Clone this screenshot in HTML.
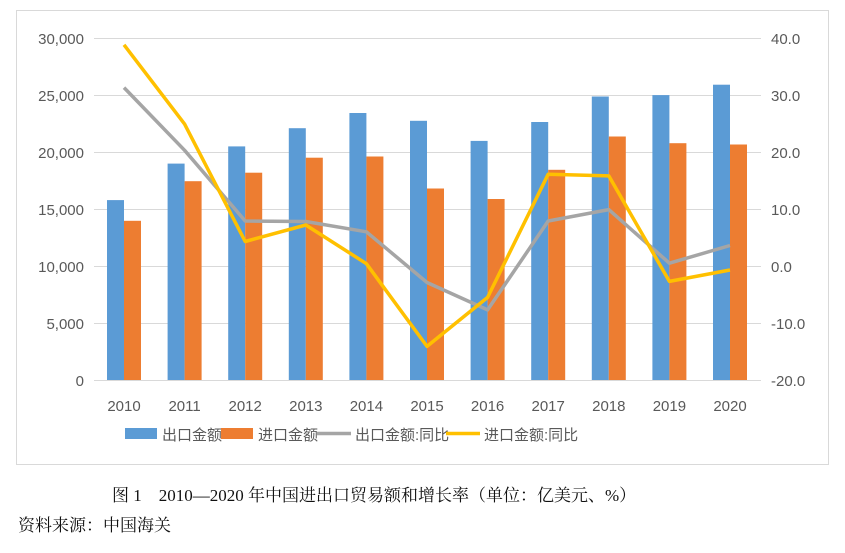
<!DOCTYPE html>
<html><head><meta charset="utf-8"><style>
body{margin:0;background:#fff;width:845px;height:548px;overflow:hidden}
svg text{font-family:"Liberation Sans","Noto Sans CJK SC",sans-serif}
</style></head><body>
<svg width="845" height="548" xmlns="http://www.w3.org/2000/svg">
<rect x="16.5" y="10.5" width="812" height="454" fill="#fff" stroke="#d9d9d9"/>
<g stroke="#d9d9d9" stroke-width="1">
<line x1="94" x2="761" y1="38.5" y2="38.5"/><line x1="94" x2="761" y1="95.5" y2="95.5"/>
<line x1="94" x2="761" y1="152.5" y2="152.5"/><line x1="94" x2="761" y1="209.5" y2="209.5"/>
<line x1="94" x2="761" y1="266.5" y2="266.5"/><line x1="94" x2="761" y1="323.5" y2="323.5"/>
<line x1="94" x2="761" y1="380.5" y2="380.5"/>
</g>
<g font-size="15" fill="#595959" text-anchor="end">
<text x="84" y="44">30,000</text><text x="84" y="101">25,000</text><text x="84" y="158">20,000</text>
<text x="84" y="215">15,000</text><text x="84" y="272">10,000</text><text x="84" y="329">5,000</text><text x="84" y="386">0</text>
</g>
<g font-size="15" fill="#595959" text-anchor="start">
<text x="771" y="44">40.0</text><text x="771" y="101">30.0</text><text x="771" y="158">20.0</text>
<text x="771" y="215">10.0</text><text x="771" y="272">0.0</text><text x="771" y="329">-10.0</text><text x="771" y="386">-20.0</text>
</g>
<g fill="#5b9bd5">
<rect x="107" y="200.1" width="17" height="179.9"/><rect x="167.6" y="163.6" width="17" height="216.4"/>
<rect x="228.2" y="146.4" width="17" height="233.6"/><rect x="288.8" y="128.2" width="17" height="251.8"/>
<rect x="349.4" y="113" width="17" height="267"/><rect x="410" y="120.8" width="17" height="259.2"/>
<rect x="470.6" y="140.9" width="17" height="239.1"/><rect x="531.2" y="122" width="17" height="258"/>
<rect x="591.8" y="96.5" width="17" height="283.5"/><rect x="652.4" y="95.1" width="17" height="284.9"/>
<rect x="713" y="84.7" width="17" height="295.3"/>
</g>
<g fill="#ed7d31">
<rect x="124" y="220.8" width="17" height="159.2"/><rect x="184.6" y="181.2" width="17" height="198.8"/>
<rect x="245.2" y="172.7" width="17" height="207.3"/><rect x="305.8" y="157.7" width="17" height="222.3"/>
<rect x="366.4" y="156.5" width="17" height="223.5"/><rect x="427" y="188.5" width="17" height="191.5"/>
<rect x="487.6" y="199" width="17" height="181"/><rect x="548.2" y="169.8" width="17" height="210.2"/>
<rect x="608.8" y="136.5" width="17" height="243.5"/><rect x="669.4" y="143.2" width="17" height="236.8"/>
<rect x="730" y="144.5" width="17" height="235.5"/>
</g>
<polyline fill="none" stroke="#a5a5a5" stroke-width="3.5" stroke-linejoin="round" points="124,87.6 184.6,150.3 245.2,221 305.8,221.5 366.4,231.8 427,282.5 487.6,309.9 548.2,221 608.8,209.6 669.4,263.2 730,245.5"/>
<polyline fill="none" stroke="#ffc000" stroke-width="3.5" stroke-linejoin="round" points="124,44.8 184.6,124.1 245.2,241.5 305.8,225 366.4,263.7 427,346.4 487.6,297.4 548.2,174.2 608.8,175.9 669.4,281.4 730,270"/>
<g font-size="15" fill="#595959" text-anchor="middle">
<text x="124" y="411">2010</text><text x="184.6" y="411">2011</text><text x="245.2" y="411">2012</text>
<text x="305.8" y="411">2013</text><text x="366.4" y="411">2014</text><text x="427" y="411">2015</text>
<text x="487.6" y="411">2016</text><text x="548.2" y="411">2017</text><text x="608.8" y="411">2018</text>
<text x="669.4" y="411">2019</text><text x="730" y="411">2020</text>
</g>
<g font-size="15" fill="#595959">
<rect x="125" y="428" width="32" height="11" fill="#5b9bd5"/><text x="162" y="440">出口金额</text>
<rect x="221" y="428" width="32" height="11" fill="#ed7d31"/><text x="258" y="440">进口金额</text>
<line x1="317" x2="351" y1="433.5" y2="433.5" stroke="#a5a5a5" stroke-width="3.5"/><text x="355" y="440">出口金额:同比</text>
<line x1="446" x2="480" y1="433.5" y2="433.5" stroke="#ffc000" stroke-width="3.5"/><text x="484" y="440">进口金额:同比</text>
</g>
<text x="112" y="501" font-size="17" fill="#111" style="font-family:'Liberation Serif','Noto Serif CJK SC',serif">图 1　2010—2020 年中国进出口贸易额和增长率（单位：亿美元、%）</text>
<text x="18" y="531" font-size="17" fill="#111" style="font-family:'Liberation Serif','Noto Serif CJK SC',serif">资料来源：中国海关</text>
</svg>
</body></html>
